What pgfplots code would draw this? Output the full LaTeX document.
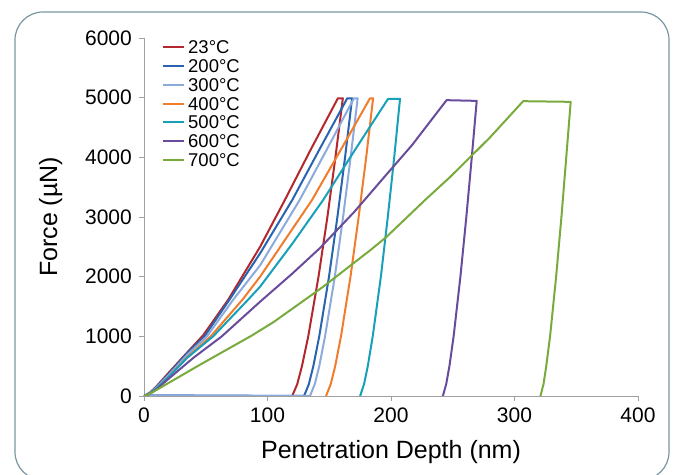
\documentclass[border=0pt]{standalone}
\usepackage{pgfplots}
\pgfplotsset{compat=1.18}
\usepackage{fontspec}
\setmainfont{Liberation Sans}

\definecolor{c23}{HTML}{B2282C}
\definecolor{c200}{HTML}{2864AF}
\definecolor{c300}{HTML}{8CAADC}
\definecolor{c400}{HTML}{F07D2D}
\definecolor{c500}{HTML}{19A0B9}
\definecolor{c600}{HTML}{694B9B}
\definecolor{c700}{HTML}{78AA3C}
\definecolor{axisgray}{HTML}{A0A0A0}
\definecolor{framecol}{HTML}{7896A0}

\begin{document}
\begin{tikzpicture}[x=1bp,y=1bp]
\useasboundingbox (-144,-79) rectangle (537,396);
\draw[framecol, line width=1.2bp, rounded corners=28bp] (-129,384) rectangle (525,-84);
\begin{axis}[
  scale only axis, width=494bp, height=358bp,
  xmin=0, xmax=400, ymin=0, ymax=6000,
  xtick={0,100,200,300,400}, ytick={0,1000,2000,3000,4000,5000,6000},
  axis lines*=left, axis line style={-, draw=axisgray, line width=0.9bp},
  tick style={draw=axisgray, line width=0.9bp},
  tick align=outside, major tick length=5bp,
  scaled y ticks=false, scaled x ticks=false,
  /pgf/number format/1000 sep={},
  /pgf/number format/assume math mode=true,
  ticklabel style={font=\fontsize{21bp}{25bp}\selectfont},
  yticklabel style={anchor=east, inner sep=0pt, xshift=-7bp},
  xticklabel style={anchor=north, inner sep=0pt, yshift=-7bp},
  xlabel={Penetration Depth (nm)},
  ylabel={Force (µN)},
  label style={font=\fontsize{25bp}{28bp}\selectfont},
  xlabel style={at={(axis description cs:0.5,-0.1732)}, anchor=base},
  ylabel style={at={(axis description cs:-0.1761,0.5)}, anchor=base},
  legend cell align=left,
  legend style={draw=none, fill=none, inner sep=0pt,
    at={(axis description cs:0.0364,0.993)}, anchor=north west,
    font=\fontsize{18.5bp}{20bp}\selectfont,
    nodes={inner sep=0pt, text height=13bp, text depth=0bp},
    row sep=5.8bp,
    /tikz/every odd column/.append style={column sep=3bp}},
  legend image code/.code={\draw[#1, line width=2bp] (0bp,0bp) -- (21bp,0bp);},
  every axis plot/.append style={line width=2bp, line join=round},
]
% 23 C
\addplot[c23] coordinates {
 (0,0) (5,60) (10,160) (20,390) (35,730) (48,1020) (68,1608) (94,2500)
 (114,3283) (135,4130) (157,4990) (161,4990)
 (155,4000) (148.5,3000) (141.3,2000) (133,1000) (127.9,500) (124.1,200) (120,0)
};
\addlegendentry{23°C}
% 200 C
\addplot[c200] coordinates {
 (0,0) (5,55) (10,150) (20,370) (35,720) (49,1000) (69,1608) (94,2390)
 (120,3283) (142,4130) (164.6,4990) (168.5,4990)
 (162.8,4000) (156.6,3000) (149.8,2000) (141.9,1000) (137.1,500) (133.5,200) (129.6,0) (1,12)
};
\addlegendentry{200°C}
% 300 C
\addplot[c300] coordinates {
 (0,0) (5,50) (10,140) (20,350) (35,690) (51,1000) (72,1608) (94,2190)
 (126,3283) (148,4130) (170,4990) (173,4990)
 (167.3,4000) (161.2,3000) (154.5,2000) (146.6,1000) (141.9,500) (138.3,200) (134.4,0) (1,12)
};
\addlegendentry{300°C}
% 400 C
\addplot[c400] coordinates {
 (0,0) (5,40) (10,120) (20,320) (35,650) (54,1000) (79.5,1608) (94,2000)
 (136,3283) (160,4150) (183,4990) (185.5,4990)
 (179.9,4000) (173.8,3000) (167.2,2000) (159.5,1000) (154.8,500) (151.2,200) (147.4,0)
};
\addlegendentry{400°C}
% 500 C
\addplot[c500] coordinates {
 (0,0) (5,45) (10,125) (20,320) (35,640) (56,1000) (84,1608) (94,1832)
 (120,2550) (145,3283) (171,4130) (197.6,4980) (207.3,4980)
 (202.6,4000) (197.4,3000) (191.8,2000) (185.2,1000) (181.2,500) (178.2,200) (175,0)
};
\addlegendentry{500°C}
% 600 C
\addplot[c600] coordinates {
 (0,0) (5,40) (10,110) (20,290) (40,640) (63,1000) (94,1580) (120,2050)
 (142.5,2480) (170,3080) (195,3680) (217,4204) (245,4958) (269.4,4946)
 (265.4,4000) (261,3000) (256.2,2000) (250.7,1000) (247.3,500) (244.7,200) (242,0)
};
\addlegendentry{600°C}
% 700 C
\addplot[c700] coordinates {
 (0,0) (5,40) (10,100) (20,220) (45,520) (87,1010) (105,1240) (145,1830)
 (183,2440) (196,2660) (227.5,3283) (248,3673) (280,4330) (307,4941) (345.5,4930)
 (341.9,4000) (338,3000) (333.7,2000) (328.8,1000) (325.7,500) (323.5,200) (321,0)
};
\addlegendentry{700°C}
\end{axis}
\end{tikzpicture}
\end{document}
